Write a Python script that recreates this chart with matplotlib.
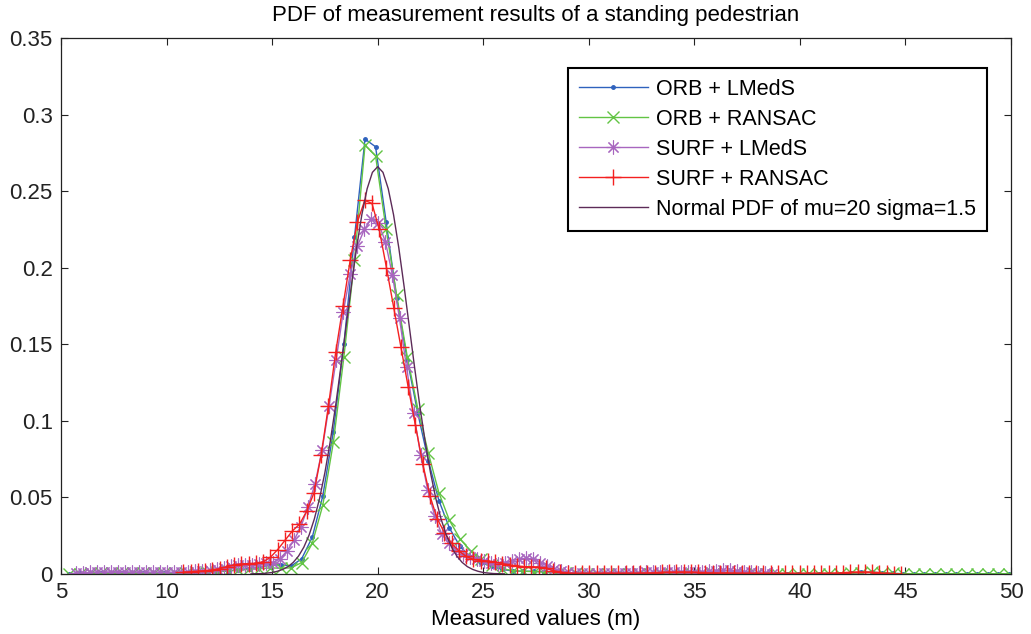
import numpy as np
import matplotlib
matplotlib.use("Agg")
import matplotlib.pyplot as plt

plt.rcParams['font.family'] = ['Liberation Sans', 'DejaVu Sans']

# x grids of the density estimates (start, stop, count)
ORB_GRID = (5.4, 49.9, 90)
SURF_LMEDS_GRID = (5.7, 38.7, 100)
SURF_RANSAC_GRID = (10.8, 44.8, 100)
NORMAL_GRID = (14.0, 26.0, 49)

orb_lmeds = [
    0.0003, 0.0004, 0.0005, 0.0005, 0.0005, 0.0005, 0.0005, 0.0005, 0.0005, 0.0005,
    0.0006, 0.0007, 0.0008, 0.0010, 0.0014, 0.0020, 0.0028, 0.0036, 0.0045, 0.0058,
    0.0060, 0.0052, 0.0100, 0.0240, 0.0510, 0.0930, 0.1500, 0.2200, 0.2840, 0.2790,
    0.2300, 0.1800, 0.1400, 0.1050, 0.0740, 0.0480, 0.0300, 0.0180, 0.0110, 0.0075,
    0.0050, 0.0030, 0.0020, 0.0018, 0.0018, 0.0015, 0.0010, 0.0006, 0.0004, 0.0003,
    0.0003, 0.0003, 0.0003, 0.0003, 0.0003, 0.0003, 0.0003, 0.0003, 0.0004, 0.0005,
    0.0005, 0.0004, 0.0003, 0.0003, 0.0003, 0.0003, 0.0003, 0.0003, 0.0003, 0.0003,
    0.0003, 0.0003, 0.0003, 0.0003, 0.0006, 0.0010, 0.0012, 0.0008, 0.0004, 0.0002,
    0.0002, 0.0002, 0.0002, 0.0002, 0.0002, 0.0002, 0.0002, 0.0002, 0.0002, 0.0002,
]

orb_ransac = [
    0.0002, 0.0003, 0.0004, 0.0004, 0.0004, 0.0004, 0.0004, 0.0004, 0.0005, 0.0005,
    0.0006, 0.0007, 0.0009, 0.0012, 0.0015, 0.0020, 0.0025, 0.0030, 0.0035, 0.0040,
    0.0038, 0.0040, 0.0075, 0.0200, 0.0450, 0.0860, 0.1420, 0.2050, 0.2800, 0.2730,
    0.2250, 0.1820, 0.1420, 0.1080, 0.0790, 0.0530, 0.0350, 0.0230, 0.0150, 0.0095,
    0.0060, 0.0035, 0.0022, 0.0018, 0.0016, 0.0012, 0.0008, 0.0005, 0.0004, 0.0003,
    0.0003, 0.0003, 0.0003, 0.0003, 0.0003, 0.0003, 0.0003, 0.0003, 0.0003, 0.0003,
    0.0003, 0.0003, 0.0003, 0.0003, 0.0003, 0.0003, 0.0003, 0.0003, 0.0003, 0.0003,
    0.0003, 0.0003, 0.0003, 0.0003, 0.0005, 0.0009, 0.0011, 0.0008, 0.0004, 0.0002,
    0.0002, 0.0002, 0.0002, 0.0002, 0.0002, 0.0002, 0.0002, 0.0002, 0.0002, 0.0002,
]

surf_lmeds = [
    0.0005, 0.0008, 0.0010, 0.0012, 0.0013, 0.0014, 0.0015, 0.0014, 0.0013, 0.0013,
    0.0012, 0.0012, 0.0011, 0.0011, 0.0012, 0.0014, 0.0016, 0.0018, 0.0020, 0.0024,
    0.0030, 0.0040, 0.0052, 0.0060, 0.0062, 0.0062, 0.0064, 0.0070, 0.0075, 0.0100,
    0.0150, 0.0220, 0.0310, 0.0440, 0.0590, 0.0810, 0.1100, 0.1400, 0.1710, 0.1960,
    0.2140, 0.2250, 0.2320, 0.2290, 0.2170, 0.1950, 0.1670, 0.1350, 0.1050, 0.0780,
    0.0550, 0.0380, 0.0260, 0.0200, 0.0160, 0.0130, 0.0110, 0.0095, 0.0085, 0.0075,
    0.0068, 0.0070, 0.0085, 0.0098, 0.0102, 0.0095, 0.0075, 0.0050, 0.0030, 0.0018,
    0.0010, 0.0007, 0.0006, 0.0006, 0.0007, 0.0008, 0.0009, 0.0009, 0.0008, 0.0008,
    0.0009, 0.0010, 0.0011, 0.0012, 0.0013, 0.0013, 0.0012, 0.0011, 0.0011, 0.0013,
    0.0017, 0.0021, 0.0024, 0.0024, 0.0021, 0.0016, 0.0011, 0.0007, 0.0004, 0.0002,
]

surf_ransac = [
    0.0012, 0.0015, 0.0018, 0.0022, 0.0027, 0.0035, 0.0048, 0.0060, 0.0066, 0.0068,
    0.0070, 0.0080, 0.0110, 0.0160, 0.0220, 0.0280, 0.0325, 0.0410, 0.0530, 0.0780,
    0.1100, 0.1450, 0.1750, 0.2050, 0.2300, 0.2440, 0.2420, 0.2250, 0.2000, 0.1740,
    0.1480, 0.1220, 0.0970, 0.0720, 0.0510, 0.0360, 0.0270, 0.0200, 0.0150, 0.0115,
    0.0095, 0.0088, 0.0085, 0.0078, 0.0068, 0.0060, 0.0052, 0.0048, 0.0048, 0.0045,
    0.0037, 0.0022, 0.0012, 0.0006, 0.0004, 0.0004, 0.0004, 0.0004, 0.0005, 0.0005,
    0.0005, 0.0005, 0.0005, 0.0006, 0.0007, 0.0008, 0.0010, 0.0012, 0.0013, 0.0013,
    0.0012, 0.0010, 0.0008, 0.0007, 0.0007, 0.0007, 0.0006, 0.0005, 0.0005, 0.0004,
    0.0004, 0.0004, 0.0004, 0.0004, 0.0004, 0.0004, 0.0004, 0.0004, 0.0005, 0.0005,
    0.0006, 0.0008, 0.0011, 0.0013, 0.0013, 0.0011, 0.0007, 0.0004, 0.0002, 0.0001,
]

# normal pdf mu=20 sigma=1.5, values read at 0.25 steps
normal_pdf = [
    0.0001, 0.0002, 0.0003, 0.0006, 0.0010, 0.0018, 0.0030, 0.0048, 0.0076, 0.0117,
    0.0175, 0.0254, 0.0360, 0.0495, 0.0663, 0.0863, 0.1093, 0.1347, 0.1613, 0.1879,
    0.2130, 0.2347, 0.2516, 0.2623, 0.2660, 0.2623, 0.2516, 0.2347, 0.2130, 0.1879,
    0.1613, 0.1347, 0.1093, 0.0863, 0.0663, 0.0495, 0.0360, 0.0254, 0.0175, 0.0117,
    0.0076, 0.0048, 0.0030, 0.0018, 0.0010, 0.0006, 0.0003, 0.0002, 0.0001,
]

labels = ['ORB + LMedS', 'ORB + RANSAC', 'SURF + LMedS', 'SURF + RANSAC',
          'Normal PDF of mu=20 sigma=1.5']
x_ticks = [5, 10, 15, 20, 25, 30, 35, 40, 45, 50]
y_ticks = [0, 0.05, 0.1, 0.15, 0.2, 0.25, 0.3, 0.35]
y_tick_labels = ['0', '0.05', '0.1', '0.15', '0.2', '0.25', '0.3', '0.35']

x_orb = np.linspace(*ORB_GRID)
x_sl = np.linspace(*SURF_LMEDS_GRID)
x_sr = np.linspace(*SURF_RANSAC_GRID)
x_norm = np.linspace(*NORMAL_GRID)

fs = 16

fig = plt.figure(figsize=(10.31, 6.34), dpi=100)
ax = fig.add_axes([0.0592, 0.0946, 0.9214, 0.8454])

ax.plot(x_orb, orb_lmeds, color='#2f62bd', lw=1.0, marker='.', ms=5, label=labels[0])
ax.plot(x_orb, orb_ransac, color='#62c444', lw=1.0, marker='x', ms=8, mew=1.0, label=labels[1])
ax.plot(x_sl, surf_lmeds, color='#a866bf', lw=1.0, marker=(8, 2, 0), ms=10, mew=0.8, label=labels[2])
ax.plot(x_sr, surf_ransac, color='#f42020', lw=1.0, marker='+', ms=11, mew=1.0, label=labels[3])
ax.plot(x_norm, normal_pdf, color='#5c2b58', lw=1.0, label=labels[4])

ax.set_xlim(5, 50)
ax.set_ylim(0, 0.35)
ax.set_xticks(x_ticks)
ax.set_yticks(y_ticks)
ax.set_yticklabels(y_tick_labels)
ax.tick_params(direction='in', length=5, width=0.8, top=True, right=True,
               labelsize=fs, pad=6, colors='#222222')
for s in ax.spines.values():
    s.set_color('#222222')
    s.set_linewidth(0.9)

ax.set_title('PDF of measurement results of a standing pedestrian', fontsize=fs, pad=12)
ax.set_xlabel('Measured values (m)', fontsize=fs, labelpad=4)

leg = ax.legend(loc='upper right', bbox_to_anchor=(0.9747, 0.944), borderaxespad=0,
                fontsize=15.5, handlelength=3.2, handletextpad=0.4, labelspacing=0.42,
                fancybox=False, framealpha=1, edgecolor='black', borderpad=0.5)
leg.get_frame().set_linewidth(1.5)

fig.savefig('out.png', dpi=100)
